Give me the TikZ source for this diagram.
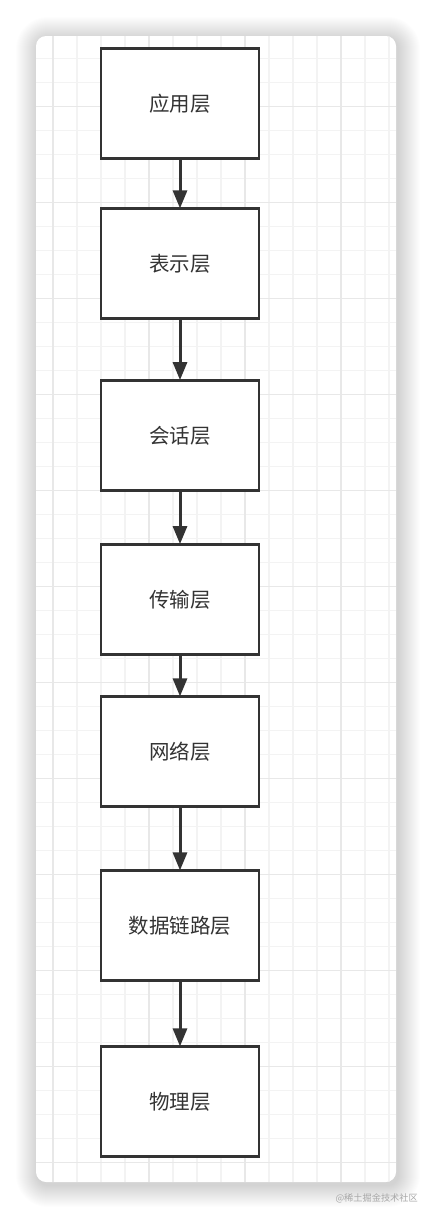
\documentclass[tikz,border=0pt]{standalone}
\usepackage{fontspec}
\newfontfamily\cjk{Noto Sans CJK SC}
\usetikzlibrary{arrows.meta}
\definecolor{ink}{HTML}{333333}
\definecolor{gridminor}{HTML}{F3F3F3}
\definecolor{gridmajor}{HTML}{E8E8E8}
\definecolor{wm}{HTML}{A8A8A8}
\tikzset{
  layer/.style={draw=ink, line width=2.8pt, fill=white, minimum width=158pt, minimum height=110pt, inner sep=0pt, font=\cjk\fontsize{20.5}{24}\selectfont, text=ink},
  flow/.style={draw=ink, line width=3pt, -{Triangle[length=18pt,width=14pt]}, shorten >=-1pt},
}
\begin{document}
\begin{tikzpicture}[x=1pt,y=-1pt]
\useasboundingbox (0,0) rectangle (432,1218);
\fill[white] (0,0) rectangle (432,1218);
% soft shadow of the card
\foreach \i in {1,...,22}{
  \fill[black, opacity=0.009, rounded corners={10+\i}]
    (36-\i+2,36-\i+3) rectangle (396+\i+2,1182+\i+3);
}
% card
\fill[white, rounded corners=10] (36,36) rectangle (396,1182);
\begin{scope}
  \clip[rounded corners=10] (36,36) rectangle (396,1182);
  \foreach \x in {5,29,...,389}{\draw[gridminor, line width=1.1pt] (\x,36) -- (\x,1182);}
  \foreach \y in {10.7,34.7,...,1180}{\draw[gridminor, line width=1.1pt] (36,\y) -- (396,\y);}
  \foreach \x in {53,149,...,389}{\draw[gridmajor, line width=1.4pt] (\x,36) -- (\x,1182);}
  \foreach \y in {10.7,106.7,...,1180}{\draw[gridmajor, line width=1.4pt] (36,\y) -- (396,\y);}
\end{scope}
% layers
\node[layer] (l1) at (180,103.8) {应用层};
\node[layer] (l2) at (180,263.8) {表示层};
\node[layer] (l3) at (180,435.5) {会话层};
\node[layer] (l4) at (180,599.5) {传输层};
\node[layer] (l5) at (180,751.8) {网络层};
\node[layer] (l6) at (180,925.8) {数据链路层};
\node[layer] (l7) at (180,1101.8) {物理层};
\draw[flow] (l1) -- (l2);
\draw[flow] (l2) -- (l3);
\draw[flow] (l3) -- (l4);
\draw[flow] (l4) -- (l5);
\draw[flow] (l5) -- (l6);
\draw[flow] (l6) -- (l7);
% watermark
\node[anchor=east, inner sep=0pt, text=wm, font=\cjk\fontsize{9.2}{11}\selectfont] (wm) at (418,1198) {@稀土掘金技术社区};
\end{tikzpicture}
\end{document}
